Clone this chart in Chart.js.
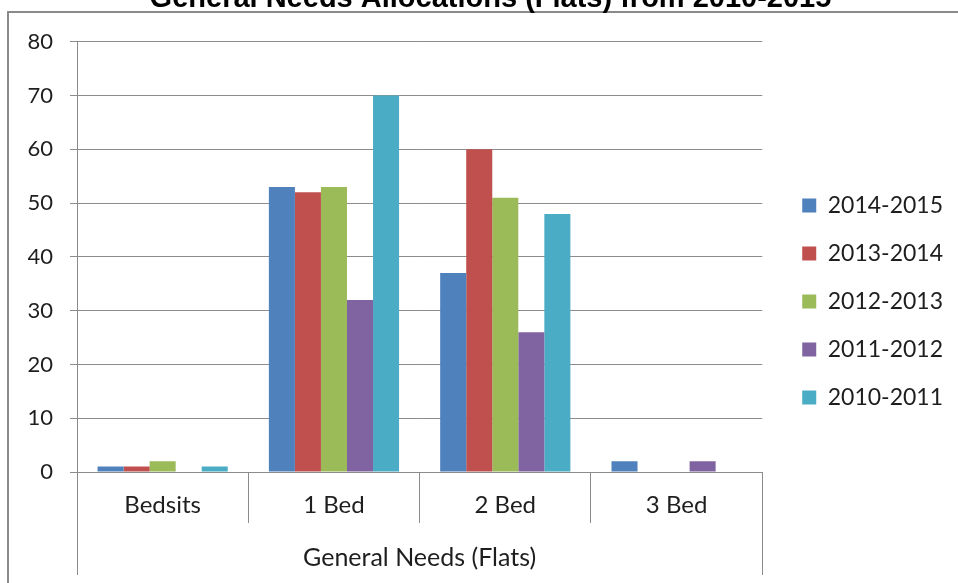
<!DOCTYPE html>
<html>
<head>
<meta charset="utf-8">
<script src="https://cdn.jsdelivr.net/npm/chart.js@4.4.1/dist/chart.umd.min.js"></script>
<style>
  html, body { margin: 0; padding: 0; background: #fff; overflow: hidden; }
  #wrap { position: absolute; left: 0; top: -18px; width: 958px; height: 601px; }
  #frame { position: absolute; left: 7px; top: 11px; width: 1000px; height: 1000px;
           border-left: 2px solid #8a8a8a; border-top: 2px solid #8a8a8a; pointer-events: none; }
</style>
</head>
<body>
<div id="frame"></div>
<div id="wrap"><canvas id="myChart" width="958" height="601"></canvas></div>
<script>
const categories = ["Bedsits", "1 Bed", "2 Bed", "3 Bed"];
const seriesNames = ["2014-2015", "2013-2014", "2012-2013", "2011-2012", "2010-2011"];
const values1415 = [1, 53, 37, 2];
const values1314 = [1, 52, 60, 0];
const values1213 = [2, 53, 51, 0];
const values1112 = [0, 32, 26, 2];
const values1011 = [1, 70, 48, 0];
const seriesColors = ["#4F81BD", "#C0504D", "#9BBB59", "#8064A2", "#4BACC6"];
const yTicks = [0, 10, 20, 30, 40, 50, 60, 70, 80];

const GRID = "#8c8c8c";
const TEXT = "#1e1e1e";
const FONT = "Lato, 'Open Sans', sans-serif";

// long outer separators of the category axis (down through the group label)
const outerLines = {
  id: "outerLines",
  afterDraw(chart) {
    const { ctx, chartArea } = chart;
    ctx.save();
    ctx.strokeStyle = GRID;
    ctx.lineWidth = 1;
    [chartArea.left, chartArea.right].forEach((x) => {
      ctx.beginPath();
      ctx.moveTo(Math.round(x) + 0.5, chartArea.bottom);
      ctx.lineTo(Math.round(x) + 0.5, chartArea.bottom + 103);
      ctx.stroke();
    });
    ctx.restore();
  },
};

function renderChart(ctx) {
  const allValues = [values1415, values1314, values1213, values1112, values1011];
  new Chart(ctx, {
    type: "bar",
    data: {
      labels: categories,
      datasets: seriesNames.map((name, i) => ({
        label: name,
        data: allValues[i],
        backgroundColor: seriesColors[i],
        borderWidth: 0,
        categoryPercentage: 0.76,
        barPercentage: 1.0,
      })),
    },
    options: {
      responsive: false,
      animation: false,
      layout: { padding: { left: 28, right: 5, top: 0, bottom: 0 } },
      plugins: {
        title: {
          display: true,
          text: "General Needs Allocations (Flats) from 2010-2015",
          color: "#000",
          font: { family: "'Liberation Sans', Arial, sans-serif", size: 29, weight: "bold" },
          padding: { top: 0, bottom: 25 },
        },
        legend: {
          position: "right",
          maxWidth: 220,
          // empty title only pushes the entries down a little
          title: { display: true, text: " ", font: { size: 10 }, padding: { top: 26, bottom: 0 } },
          labels: {
            boxWidth: 14,
            boxHeight: 14,
            padding: 25,
            color: TEXT,
            font: { family: FONT, size: 23 },
          },
        },
        tooltip: { enabled: false },
      },
      scales: {
        x: {
          offset: true,
          afterFit: (scale) => { scale.height = 111; },
          grid: { offset: true, drawOnChartArea: false, tickLength: 51, color: GRID },
          border: { color: GRID },
          ticks: { color: TEXT, font: { family: FONT, size: 24 }, padding: -32 },
          title: {
            display: true,
            text: "General Needs (Flats)",
            color: TEXT,
            font: { family: FONT, size: 25 },
            padding: { top: 0, bottom: 10 },
          },
        },
        y: {
          min: 0,
          max: 80,
          afterFit: (scale) => { scale.width = 49; },
          afterBuildTicks: (scale) => { scale.ticks = yTicks.map((v) => ({ value: v })); },
          grid: { color: GRID, tickLength: 7 },
          border: { color: GRID },
          ticks: { color: TEXT, font: { family: FONT, size: 22 }, padding: 17 },
        },
        // empty spacer between the plot and the legend
        gap: {
          type: "linear",
          position: "right",
          min: 0,
          max: 1,
          afterFit: (scale) => { scale.width = 15; },
          grid: { display: false },
          border: { display: false },
          ticks: { display: false },
        },
      },
    },
    plugins: [outerLines],
  });
}

function setup() {
  const ctx = document.getElementById("myChart").getContext("2d");
  renderChart(ctx);
}

window.addEventListener("load", setup);
</script>
</body>
</html>
